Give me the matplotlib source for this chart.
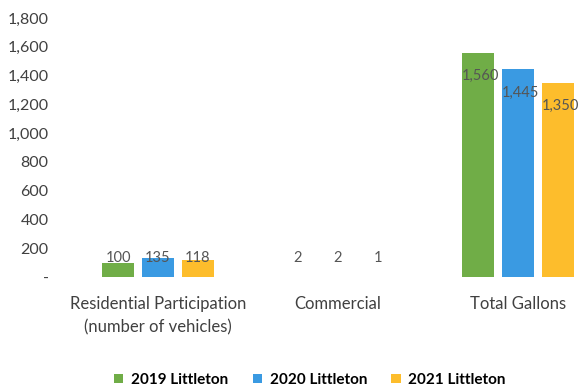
import matplotlib.pyplot as plt
import numpy as np
from matplotlib.ticker import FuncFormatter

categories = ["Residential Participation\n(number of vehicles)", "Commercial", "Total Gallons"]
series_names = ["2019 Littleton", "2020 Littleton", "2021 Littleton"]
values_2019 = [100, 2, 1560]
values_2020 = [135, 2, 1445]
values_2021 = [118, 1, 1350]
colors = ["#70AD47", "#3A9AE2", "#FDBD2C"]

plt.rcParams['font.family'] = ['Lato', 'DejaVu Sans']
text_color = "#404040"

fig = plt.figure(figsize=(5.79, 3.90), dpi=100)
# axes runs past the right edge like the cropped original
ax = fig.add_axes([68 / 579, (390 - 277) / 390, 540 / 579, (277 - 18) / 390])

x = np.arange(len(categories))
width = 0.178
pitch = 0.222
all_series = [values_2019, values_2020, values_2021]

for i, (vals, name, col) in enumerate(zip(all_series, series_names, colors)):
    pos = x + (i - 1) * pitch
    ax.bar(pos, vals, width=width, color=col, label=name)
    for p, v in zip(pos, vals):
        if v > 500:
            ax.annotate(f"{v:,}", (p, v), xytext=(2, -17), textcoords="offset points",
                        ha="center", va="center", fontsize=10.5, color="#555555")
        else:
            ax.annotate(f"{v:,}", (p, 132), ha="center", va="center",
                        fontsize=10.5, color="#555555")

ax.set_xlim(-0.5, 2.5)
ax.set_ylim(0, 1800)
ax.set_yticks(np.arange(0, 1801, 200))
ax.yaxis.set_major_formatter(FuncFormatter(lambda v, _: "-" if v == 0 else f"{int(v):,}"))
ax.set_xticks(x)
ax.set_xticklabels(categories, fontsize=12, color=text_color, linespacing=1.5)
ax.tick_params(axis="y", labelsize=11.5, labelcolor=text_color, length=0, pad=14)
ax.tick_params(axis="x", length=0, pad=14)
for s in ax.spines.values():
    s.set_visible(False)

leg = fig.legend(loc="center", bbox_to_anchor=(310 / 579, 10 / 390), ncol=3, frameon=False,
                 handlelength=0.6, handleheight=0.6, handletextpad=0.5, columnspacing=1.6,
                 prop={"weight": "bold", "size": 11})

fig.savefig("out.png", dpi=100)
